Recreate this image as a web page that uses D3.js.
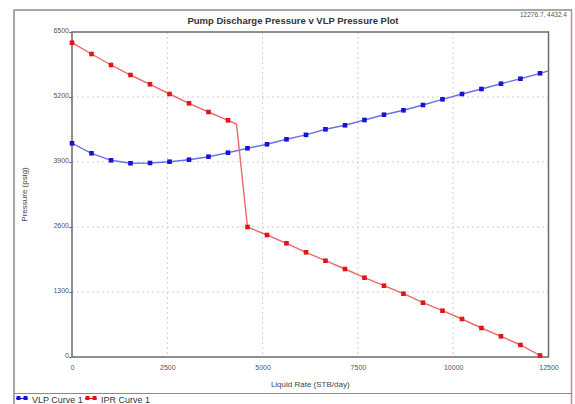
<!DOCTYPE html>
<html><head><meta charset="utf-8">
<script src="https://cdn.jsdelivr.net/npm/d3@7"></script>
<style>
html,body{margin:0;padding:0;background:#fff;}
svg{display:block;font-family:"Liberation Sans",Arial,sans-serif;}
</style></head>
<body><svg id="c" width="575" height="404"></svg>
<script>
// ---- data ----
const rates = [0, 511.5, 1023, 1534.5, 2046, 2557.5, 3069, 3580.5, 4092, 4603.5, 5115, 5626.5,
  6138, 6649.5, 7161, 7672.5, 8184, 8695.5, 9207, 9718.5, 10230, 10741.5, 11253, 11764.5, 12276.7];
const vlpPressure = [4274, 4074, 3934, 3874, 3880, 3906, 3946, 4006, 4086, 4174, 4254, 4354,
  4443, 4554, 4634, 4740, 4846, 4934, 5040, 5154, 5260, 5360, 5466, 5566, 5674];
const iprPressure = [6286, 6060, 5840, 5640, 5454, 5260, 5074, 4900, 4734, 2600, 2440, 2274,
  2094, 1926, 1760, 1586, 1426, 1266, 1086, 926, 760, 580, 414, 240, 30];
// line-only points (no marker)
const iprBubble = {rate: 4316, p: 4658};
const vlpEdge = {rate: 12500, p: 5724};
const xTicks = [0, 2500, 5000, 7500, 10000, 12500];
const yTicks = [0, 1300, 2600, 3900, 5200, 6500];
const title = "Pump Discharge Pressure v VLP Pressure Plot";
const readout = "12276.7, 4432.4";
const xTitle = "Liquid Rate  (STB/day)";
const yTitle = "Pressure  (psig)";
const seriesNames = ["VLP Curve 1", "IPR Curve 1"];

const svg = d3.select("#c");
const L = 72, R = 548.5, T = 32, B = 357;
const x = d3.scaleLinear().domain([0, 12500]).range([L, R]);
const y = d3.scaleLinear().domain([0, 6500]).range([B, T]);

// outer frame
svg.append("line").attr("x1",14).attr("x2",14).attr("y1",10).attr("y2",404).attr("stroke","#8a8a8a").attr("stroke-width",1.5);
svg.append("line").attr("x1",14).attr("x2",572).attr("y1",10).attr("y2",10).attr("stroke","#8a8a8a").attr("stroke-width",1.5);
svg.append("line").attr("x1",571.5).attr("x2",571.5).attr("y1",10).attr("y2",404).attr("stroke","#c9879a").attr("stroke-width",1.5);
svg.append("line").attr("x1",14).attr("x2",572).attr("y1",393.5).attr("y2",393.5).attr("stroke","#8a8a8a").attr("stroke-width",1.2);

// grid
const g = svg.append("g");
g.selectAll(".gx").data(xTicks.slice(1, -1)).join("line")
  .attr("x1", d=>x(d)).attr("x2", d=>x(d)).attr("y1", T).attr("y2", B)
  .attr("stroke","#cfcfcf").attr("stroke-dasharray","2,3");
g.selectAll(".gy").data(yTicks.slice(1, -1)).join("line")
  .attr("y1", d=>y(d)).attr("y2", d=>y(d)).attr("x1", L).attr("x2", R)
  .attr("stroke","#cfcfcf").attr("stroke-dasharray","2,3");

// axes (labels)
const xAxis = d3.axisBottom(x).tickValues(xTicks).tickSize(0).tickPadding(8).tickFormat(d3.format("d"));
const yAxis = d3.axisLeft(y).tickValues(yTicks).tickSize(3).tickPadding(0).tickFormat(d3.format("d"));
const gx = svg.append("g").attr("transform",`translate(0,${B})`).call(xAxis);
const gy = svg.append("g").attr("transform",`translate(${L},0)`).call(yAxis);
[gx, gy].forEach(a => {
  a.select(".domain").remove();
  a.selectAll("text").attr("fill","#555").attr("font-size","7px").attr("font-family","Liberation Sans, Arial, sans-serif");
  a.selectAll("line").attr("stroke","#777");
});
gy.selectAll("text").attr("dy","0.1em");

// plot border
svg.append("rect").attr("x",L).attr("y",T).attr("width",R-L).attr("height",B-T)
  .attr("fill","none").attr("stroke","#6b6b6b").attr("stroke-width",1.5);

// lines
const line = d3.line().x(d=>x(d.rate)).y(d=>y(d.p));
const vlpPts = rates.map((r,i)=>({rate:r, p:vlpPressure[i]}));
const iprPts = rates.map((r,i)=>({rate:r, p:iprPressure[i]}));
const iprLine = iprPts.slice(0,9).concat([iprBubble], iprPts.slice(9));
const vlpLine = vlpPts.concat([vlpEdge]);
svg.append("clipPath").attr("id","clp").append("rect").attr("x",L).attr("y",T).attr("width",R-L).attr("height",B-T);
const pg = svg.append("g").attr("clip-path","url(#clp)");
pg.append("path").datum(vlpLine).attr("d",line).attr("fill","none").attr("stroke","#6f6fe6").attr("stroke-width",1.4);
pg.append("path").datum(iprLine).attr("d",line).attr("fill","none").attr("stroke","#ec6a6a").attr("stroke-width",1.4);
const ms = 4.6;
svg.append("g").selectAll("rect").data(vlpPts).join("rect")
  .attr("x",d=>x(d.rate)-ms/2).attr("y",d=>y(d.p)-ms/2).attr("width",ms).attr("height",ms).attr("fill","#1414d2");
svg.append("g").selectAll("rect").data(iprPts).join("rect")
  .attr("x",d=>x(d.rate)-ms/2).attr("y",d=>y(d.p)-ms/2).attr("width",ms).attr("height",ms).attr("fill","#e01616");

// titles
svg.append("text").attr("x",293).attr("y",23.5).attr("text-anchor","middle")
  .attr("font-size","9.5px").attr("font-weight","bold").attr("fill","#333").text(title);
svg.append("text").attr("x",567).attr("y",17).attr("text-anchor","end")
  .attr("font-size","6.5px").attr("fill","#555").text(readout);
svg.append("text").attr("x",(L+R)/2).attr("y",387).attr("text-anchor","middle")
  .attr("font-size","8px").attr("fill","#444").text(xTitle);
svg.append("text").attr("transform",`translate(27,${(T+B)/2}) rotate(-90)`).attr("text-anchor","middle")
  .attr("font-size","8px").attr("fill","#444").text(yTitle);

// legend
const legCol = ["#1414d2","#e01616"];
const legX = [16, 85];
seriesNames.forEach((n,i)=>{
  const lg = svg.append("g").attr("transform",`translate(${legX[i]},398.5)`);
  lg.append("line").attr("x1",0).attr("x2",12).attr("y1",0).attr("y2",0).attr("stroke",legCol[i]).attr("stroke-width",1);
  [1.5, 8.5].forEach(px=>lg.append("rect").attr("x",px-1).attr("y",-2.5).attr("width",4).attr("height",4).attr("fill",legCol[i]));
  lg.append("text").attr("x",16).attr("y",4).attr("font-size","9px").attr("fill","#333").text(n);
});
</script></body></html>
